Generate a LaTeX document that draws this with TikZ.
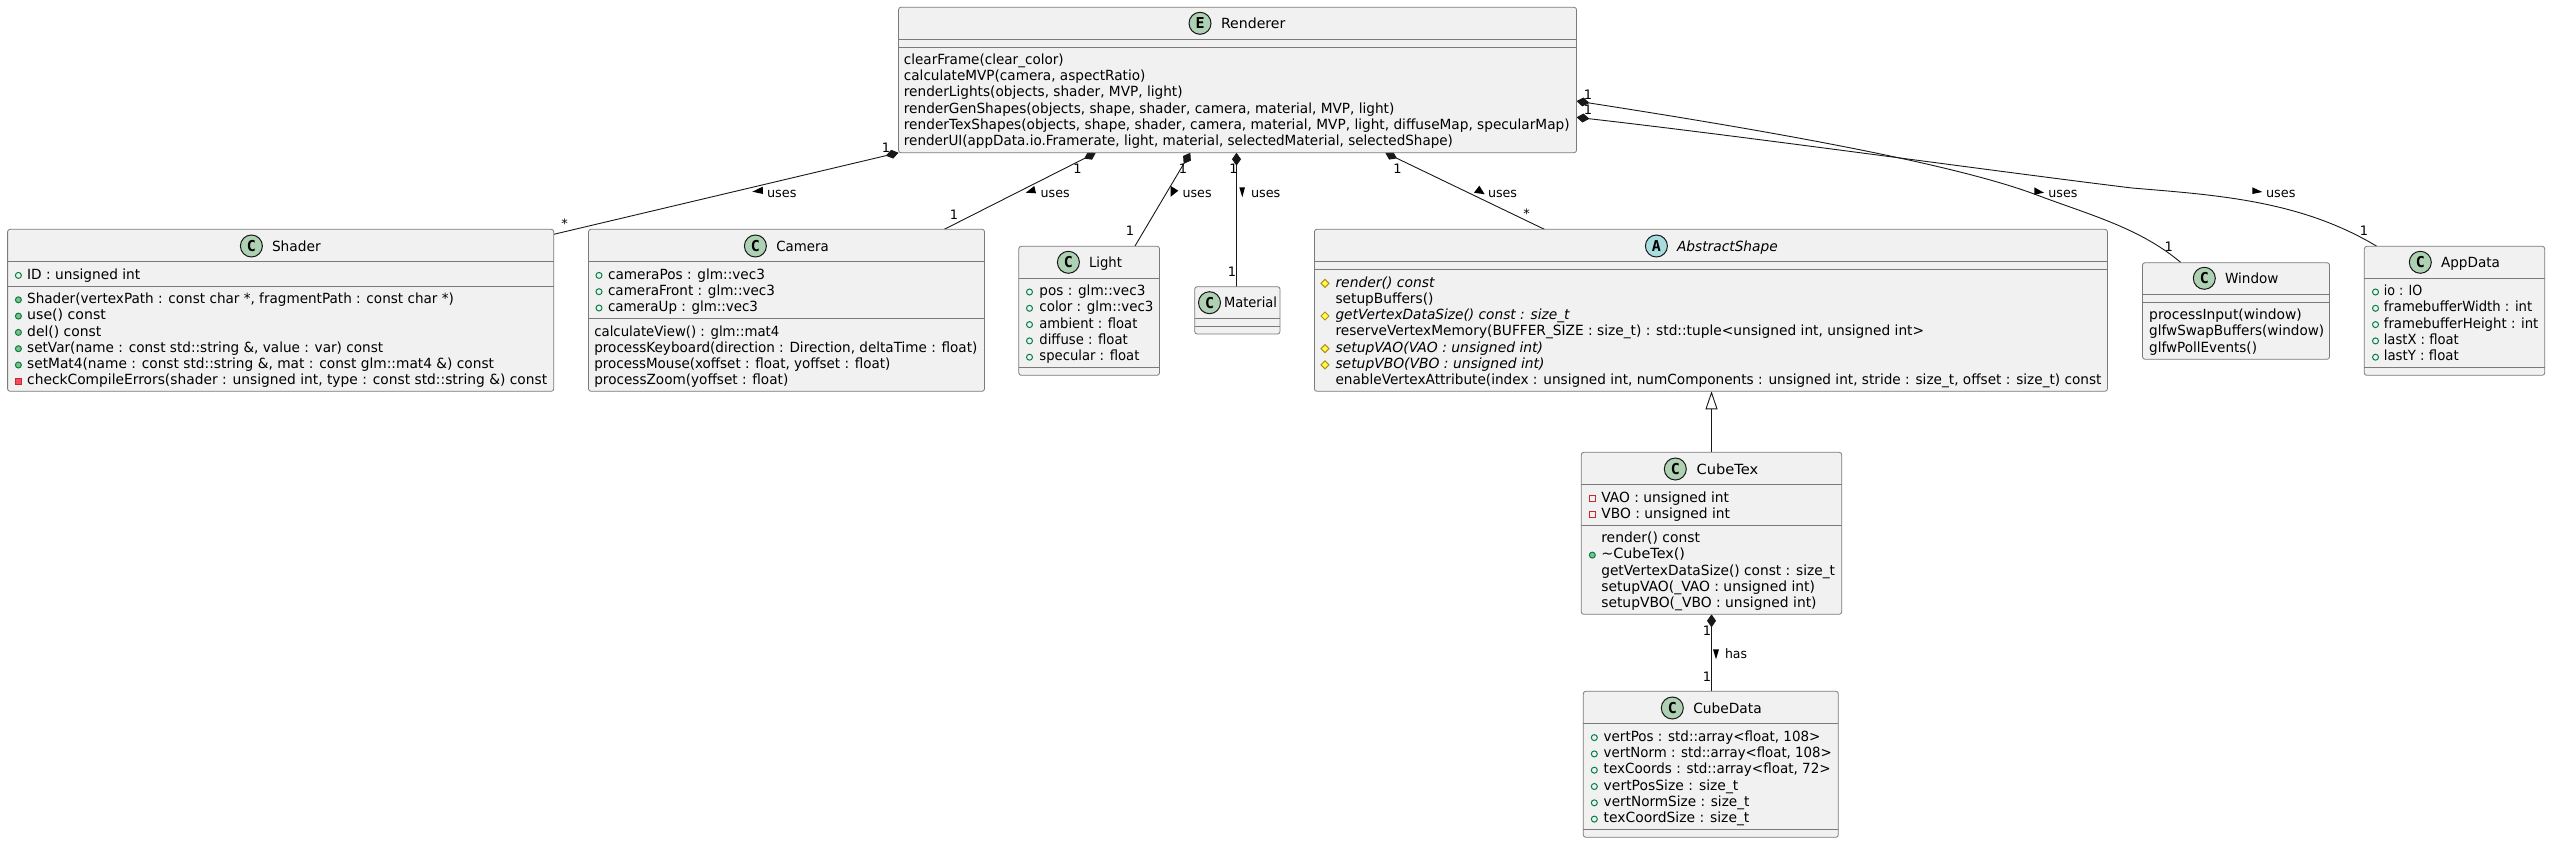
\documentclass[tikz,border=0pt]{standalone}
\usepackage{fontspec}
\usepackage{graphicx}
\usetikzlibrary{arrows.meta,calc,backgrounds}
\setmainfont{DejaVu Sans}
\newfontfamily\letterfont{DejaVu Sans Mono}[BoldFont={DejaVu Sans Mono Bold}]
\definecolor{ink}{HTML}{181818}
\definecolor{rule}{HTML}{7A7A7A}
\definecolor{boxfill}{HTML}{F1F1F1}
\definecolor{classcirc}{HTML}{ADD1B2}
\definecolor{abscirc}{HTML}{A9DCDF}
\definecolor{publine}{HTML}{038048}
\definecolor{pubfill}{HTML}{84BE84}
\definecolor{privline}{HTML}{C82930}
\definecolor{privfill}{HTML}{F24D5C}
\definecolor{protline}{HTML}{B38D22}
\definecolor{protfill}{HTML}{FFFF44}
\newcount\autoname
\tikzset{
  x=1pt,y=-1pt,
  classbox/.style={draw=rule,line width=.8pt,fill=boxfill,rounded corners=2.5pt,inner sep=0pt,outer sep=0pt,rectangle},
  seprule/.style={draw=rule,line width=.8pt},
  circ/.style={circle,draw=ink,line width=1pt,minimum size=22pt,inner sep=0pt,outer sep=0pt,font=\fontsize{15}{15}\letterfont\bfseries,text=black},
  ttl/.style={anchor=base west,inner sep=0pt,outer sep=0pt,font=\fontsize{14}{16}\selectfont,text=black},
  memtxt/.style={anchor=base west,inner sep=0pt,outer sep=0pt,font=\fontsize{14}{16}\selectfont,text=black},
  multi/.style={anchor=center,inner sep=0pt,outer sep=0pt,font=\fontsize{13}{15}\selectfont,text=black},
  lbl/.style={anchor=base west,inner sep=0pt,outer sep=0pt,font=\fontsize{13}{15}\selectfont,text=black},
  conn/.style={draw=ink,line width=.9pt},
  comp/.style={conn,{Diamond[length=13pt,width=9pt,fill=ink]}-},
  gen/.style={conn,{Triangle[open,length=18pt,width=12pt,fill=white]}-},
}
% fit text to a measured width
\newcommand{\fitw}[2]{\resizebox{#1pt}{\height}{#2}}
% \umlbox{name}{x0}{y0}{x1}{y1}{sep1}{sep2}
\newcommand{\umlbox}[7]{%
  \node[classbox,minimum width={#4pt-#2pt},minimum height={#5pt-#3pt},anchor=north west] (#1) at (#2,#3) {};
  \draw[seprule] (#2,#6) -- (#4,#6);
  \draw[seprule] (#2,#7) -- (#4,#7);
}
% \umltitle{name}{circle cx}{cy}{letter}{colour}{text x}{width}{text}
\newcommand{\umltitle}[8]{%
  \node[circ,fill=#5] (#1circle) at (#2,#3) {#4};
  \node[ttl] (#1title) at (#6,#3+5) {\fitw{#7}{#8}};
}
% \mem{x}{base}{i}{width}{text}
\newcommand{\mem}[5]{%
  \global\advance\autoname by 1
  \node[memtxt] (row\the\autoname) at (#1,#2+16.3*#3) {\fitw{#4}{#5}};
}
\newcommand{\pubA}[3]{\draw[publine,line width=1pt] (#1,#2+16.3*#3-3.6) circle (3pt);}
\newcommand{\pubM}[3]{\fill[pubfill,draw=publine,line width=1pt] (#1,#2+16.3*#3-3.6) circle (3pt);}
\newcommand{\privA}[3]{\draw[privline,line width=1pt] (#1-3,#2+16.3*#3-6.6) rectangle +(6,6);}
\newcommand{\privM}[3]{\fill[privfill,draw=privline,line width=1pt] (#1-3,#2+16.3*#3-6.6) rectangle +(6,6);}
\newcommand{\protM}[3]{\fill[protfill,draw=protline,line width=1pt] (#1,#2+16.3*#3-7.6) -- ++(4,4) -- ++(-4,4) -- ++(-4,-4) -- cycle;}
\newcommand{\cardi}[4]{\node[multi] (#1) at (#2,#3) {#4};}
\begin{document}
\begin{tikzpicture}
\useasboundingbox (0,0) rectangle (2550,843);

% Renderer
\umlbox{renderer}{898.5}{7.3}{1576.5}{152.7}{39.3}{47.3}
\umltitle{renderer}{1200}{23.3}{E}{classcirc}{1221}{64.4}{Renderer}
\def\b{64.3}\def\x{903.9}
\mem{\x}{\b}{0}{159.8}{clearFrame(clear\_color)}
\mem{\x}{\b}{1}{241.5}{calculateMVP(camera, aspectRatio)}
\mem{\x}{\b}{2}{278.7}{renderLights(objects, shader, MVP, light)}
\mem{\x}{\b}{3}{490.4}{renderGenShapes(objects, shape, shader, camera, material, MVP, light)}
\mem{\x}{\b}{4}{665.7}{renderTexShapes(objects, shape, shader, camera, material, MVP, light, diffuseMap, specularMap)}
\mem{\x}{\b}{5}{549}{renderUI(appData.io.Framerate, light, material, selectedMaterial, selectedShape)}

% Shader
\umlbox{shader}{7.6}{229.3}{553.8}{391.3}{261.3}{286.3}
\umltitle{shader}{251.4}{246}{C}{classcirc}{272}{48.7}{Shader}
\def\x{27.2}\def\ix{18.4}
\pubA{\ix}{279}{0}
\mem{\x}{279}{0}{113}{ID : unsigned int}
\def\b{303.4}
\pubM{\ix}{\b}{0}\pubM{\ix}{\b}{1}\pubM{\ix}{\b}{2}\pubM{\ix}{\b}{3}\pubM{\ix}{\b}{4}\privM{\ix}{\b}{5}
\mem{\x}{\b}{0}{426.7}{Shader(vertexPath : const char *, fragmentPath : const char *)}
\mem{\x}{\b}{1}{78.8}{use() const}
\mem{\x}{\b}{2}{74.2}{del() const}
\mem{\x}{\b}{3}{356}{setVar(name : const std::string \&, value : var) const}
\mem{\x}{\b}{4}{466.9}{setMat4(name : const std::string \&, mat : const glm::mat4 \&) const}
\mem{\x}{\b}{5}{520}{checkCompileErrors(shader : unsigned int, type : const std::string \&) const}

% Camera
\umlbox{camera}{588.5}{229.3}{984.5}{391.3}{261.3}{318.3}
\umltitle{camera}{755.4}{246}{C}{classcirc}{776.4}{52.3}{Camera}
\def\x{608}\def\ix{599}\def\b{279}
\pubA{\ix}{\b}{0}\pubA{\ix}{\b}{1}\pubA{\ix}{\b}{2}
\mem{\x}{\b}{0}{157}{cameraPos : glm::vec3}
\mem{\x}{\b}{1}{167}{cameraFront : glm::vec3}
\mem{\x}{\b}{2}{150}{cameraUp : glm::vec3}
\def\x{594.3}\def\b{336}
\mem{\x}{\b}{0}{185}{calculateView() : glm::mat4}
\mem{\x}{\b}{1}{383}{processKeyboard(direction : Direction, deltaTime : float)}
\mem{\x}{\b}{2}{296}{processMouse(xoffset : float, yoffset : float)}
\mem{\x}{\b}{3}{194}{processZoom(yoffset : float)}

% Light
\umlbox{light}{1018.8}{246.3}{1159.5}{375.3}{278.3}{367.3}
\umltitle{light}{1068.4}{262.3}{C}{classcirc}{1089}{33}{Light}
\def\x{1039.4}\def\ix{1029.5}\def\b{295.6}
\pubA{\ix}{\b}{0}\pubA{\ix}{\b}{1}\pubA{\ix}{\b}{2}\pubA{\ix}{\b}{3}\pubA{\ix}{\b}{4}
\mem{\x}{\b}{0}{106}{pos : glm::vec3}
\mem{\x}{\b}{1}{114}{color : glm::vec3}
\mem{\x}{\b}{2}{98}{ambient : float}
\mem{\x}{\b}{3}{88.4}{diffuse : float}
\mem{\x}{\b}{4}{100}{specular : float}

% Material
\umlbox{material}{1194.7}{286.7}{1280}{334}{318}{326}
\umltitle{material}{1209.5}{302.7}{C}{classcirc}{1224}{53}{Material}

% AbstractShape
\umlbox{abstract}{1314.4}{229.3}{2107.4}{391.3}{261.3}{269.3}
\node[circ,fill=abscirc] (abstractcircle) at (1656.4,246) {A};
\node[ttl] (abstracttitle) at (1677,251) {\fitw{100.8}{\itshape AbstractShape}};
\def\x{1335.5}\def\ix{1325}\def\b{287}
\protM{\ix}{\b}{0}\protM{\ix}{\b}{2}\protM{\ix}{\b}{4}\protM{\ix}{\b}{5}
\mem{\x}{\b}{0}{99}{\itshape render() const}
\mem{\x}{\b}{1}{98}{setupBuffers()}
\mem{\x}{\b}{2}{234}{\itshape getVertexDataSize() const : size\_t}
\mem{\x}{\b}{3}{588.6}{reserveVertexMemory(BUFFER\_SIZE : size\_t) : std::tuple<unsigned int, unsigned int>}
\mem{\x}{\b}{4}{207.6}{\itshape setupVAO(VAO : unsigned int)}
\mem{\x}{\b}{5}{209}{\itshape setupVBO(VBO : unsigned int)}
\mem{\x}{\b}{6}{766}{enableVertexAttribute(index : unsigned int, numComponents : unsigned int, stride : size\_t, offset : size\_t) const}

% CubeTex
\umlbox{cubetex}{1581.3}{452.3}{1841.7}{614.3}{484.3}{525.3}
\umltitle{cubetex}{1675.3}{469}{C}{classcirc}{1696.7}{61.6}{CubeTex}
\def\x{1601.3}\def\ix{1592.3}\def\b{502}
\privA{\ix}{\b}{0}\privA{\ix}{\b}{1}
\mem{\x}{\b}{0}{127.7}{VAO : unsigned int}
\mem{\x}{\b}{1}{128.7}{VBO : unsigned int}
\def\b{542.4}
\pubM{\ix}{\b}{1}
\mem{\x}{\b}{0}{98.7}{render() const}
\mem{\x}{\b}{1}{83.7}{\textasciitilde CubeTex()}
\mem{\x}{\b}{2}{233.7}{getVertexDataSize() const : size\_t}
\mem{\x}{\b}{3}{213.7}{setupVAO(\_VAO : unsigned int)}
\mem{\x}{\b}{4}{215.3}{setupVBO(\_VBO : unsigned int)}

% CubeData
\umlbox{cubedata}{1583.3}{691.3}{1838.3}{837.3}{723.3}{829.3}
\umltitle{cubedata}{1672.3}{708}{C}{classcirc}{1693.3}{68.4}{CubeData}
\def\x{1603.7}\def\ix{1594.3}\def\b{741.2}
\pubA{\ix}{\b}{0}\pubA{\ix}{\b}{1}\pubA{\ix}{\b}{2}\pubA{\ix}{\b}{3}\pubA{\ix}{\b}{4}\pubA{\ix}{\b}{5}
\mem{\x}{\b}{0}{216.7}{vertPos : std::array<float, 108>}
\mem{\x}{\b}{1}{228}{vertNorm : std::array<float, 108>}
\mem{\x}{\b}{2}{227}{texCoords : std::array<float, 72>}
\mem{\x}{\b}{3}{134.7}{vertPosSize : size\_t}
\mem{\x}{\b}{4}{145.7}{vertNormSize : size\_t}
\mem{\x}{\b}{5}{145.7}{texCoordSize : size\_t}

% Window
\umlbox{window}{2142.5}{262.7}{2329.5}{359.3}{294.3}{302.3}
\umltitle{window}{2204.3}{278.3}{C}{classcirc}{2225}{53.5}{Window}
\def\x{2149.2}\def\b{319.6}
\mem{\x}{\b}{0}{152.6}{processInput(window)}
\mem{\x}{\b}{1}{175}{glfwSwapBuffers(window)}
\mem{\x}{\b}{2}{107.8}{glfwPollEvents()}

% AppData
\umlbox{appdata}{2364.3}{246.3}{2544.7}{375.3}{278.3}{367.3}
\umltitle{appdata}{2420.3}{262.3}{C}{classcirc}{2441}{59}{AppData}
\def\x{2383.8}\def\ix{2375.5}\def\b{295.6}
\pubA{\ix}{\b}{0}\pubA{\ix}{\b}{1}\pubA{\ix}{\b}{2}\pubA{\ix}{\b}{3}\pubA{\ix}{\b}{4}
\mem{\x}{\b}{0}{38.6}{io : IO}
\mem{\x}{\b}{1}{148.4}{framebufferWidth : int}
\mem{\x}{\b}{2}{154.6}{framebufferHeight : int}
\mem{\x}{\b}{3}{75}{lastX : float}
\mem{\x}{\b}{4}{75}{lastY : float}

% Connectors lie behind the boxes, which clip their diamonds
\begin{pgfonlayer}{background}
\fill[white] (0,0) rectangle (2550,843);
\draw[comp] (renderer.south west) -- ([yshift=-5pt]shader.north east);
\draw[comp] ([xshift=197.3pt]renderer.south west) -- ([xshift=355.8pt]camera.north west);
\draw[comp] ([xshift=291.8pt]renderer.south west) -- ([xshift=116pt]light.north west);
\draw[comp] ([xshift=338pt]renderer.south west) -- ([xshift=41.8pt]material.north west);
\draw[comp] ([xshift=486.7pt]renderer.south west) -- ([xshift=230pt]abstract.north west);
\draw[comp] ([yshift=-93.7pt]renderer.north east) .. controls (1750,128) and (1950,162) .. (2036.8,195)
   .. controls (2090,215) and (2140,228) .. ([xshift=38.5pt]window.north west);
\draw[comp] ([yshift=-110pt]renderer.north east) .. controls (1750,137) and (2000,172) .. (2132,188)
   .. controls (2215,195) and (2300,200) .. ([xshift=12.5pt]appdata.north west);
\draw[gen] ([xshift=397.1pt]abstract.south west) -- ([xshift=130.2pt]cubetex.north west);
\draw[comp] ([xshift=130.2pt]cubetex.south west) -- ([xshift=128.2pt]cubedata.north west);
\end{pgfonlayer}

% Cardinalities and labels
\cardi{c1}{886}{147.3}{1}\cardi{c2}{564.5}{224}{*}
\cardi{c3}{1077.4}{169}{1}\cardi{c4}{954}{215}{1}
\cardi{c5}{1183}{169}{1}\cardi{c6}{1130}{230.7}{1}
\cardi{c7}{1233.5}{169}{1}\cardi{c8}{1232}{272}{1}
\cardi{c9}{1397.5}{169}{1}\cardi{c10}{1526.5}{214}{*}
\cardi{c11}{1588}{94.3}{1}\cardi{c12}{1588}{110}{1}
\cardi{c13}{2168.7}{246.7}{1}\cardi{c14}{2364}{230.7}{1}
\cardi{c15}{1707}{630.7}{1}\cardi{c16}{1707}{676.7}{1}

\node[lbl] (u1) at (767,197) {\fitw{29.5}{uses}};
\node[lbl] (u2) at (1040.7,197) {\fitw{29}{uses}};
\node[lbl] (u3) at (1182.6,197) {\fitw{29}{uses}};
\node[lbl] (u4) at (1251,197) {\fitw{29.4}{uses}};
\node[lbl] (u5) at (1488,197) {\fitw{29}{uses}};
\node[lbl] (u6) at (2048.4,197) {\fitw{29}{uses}};
\node[lbl] (u7) at (2266,197) {\fitw{29.5}{uses}};
\node[lbl] (u8) at (1725,658.3) {\fitw{22}{has}};

\fill[black] (752.3,191.7) -- (762.7,186.7) -- (763,194) -- cycle;
\fill[black] (1025.7,192.7) -- (1034.3,186) -- (1036,193.3) -- cycle;
\fill[black] (1170.7,186) -- (1178.3,190.7) -- (1170.7,196.7) -- cycle;
\fill[black] (1239.3,187.3) -- (1245,187.3) -- (1242.3,197.3) -- cycle;
\fill[black] (1474,192.7) -- (1479.3,185.7) -- (1484.7,194.3) -- cycle;
\fill[black] (2034.3,187.3) -- (2044,192.7) -- (2034.3,194.7) -- cycle;
\fill[black] (2252.4,187.3) -- (2262.4,192) -- (2252.4,194) -- cycle;
\fill[black] (1713,649.3) -- (1719,649.3) -- (1716,659.3) -- cycle;
\end{tikzpicture}
\end{document}
